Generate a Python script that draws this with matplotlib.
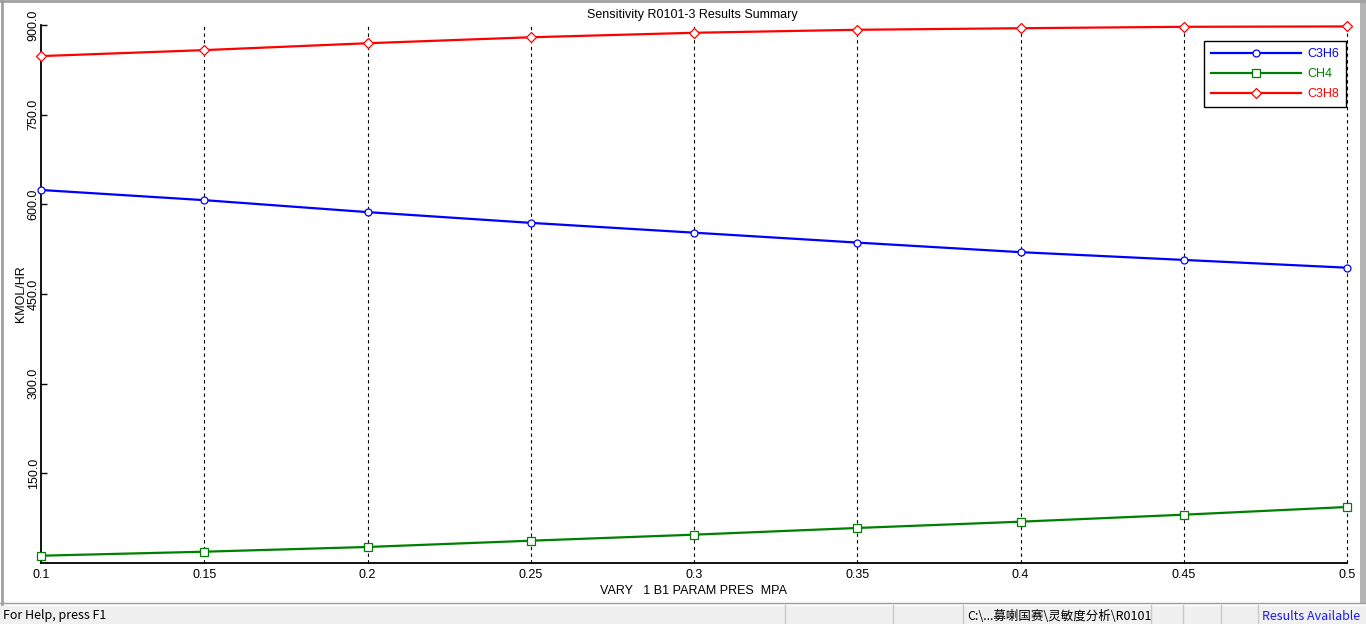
import numpy as np
import matplotlib
matplotlib.use("Agg")
import matplotlib.pyplot as plt
from matplotlib.lines import Line2D
from matplotlib.patches import Rectangle

# data
pres = [0.1, 0.15, 0.2, 0.25, 0.3, 0.35, 0.4, 0.45, 0.5]
c3h6 = [624, 607, 587, 569, 552.6, 536, 520, 507, 494]
ch4 = [12.2, 18.9, 26.8, 37.3, 47.4, 58.6, 69.1, 80.8, 93.7]
c3h8 = [848, 858, 869.5, 879.5, 887, 892, 894.6, 897, 897.6]
x_labels = ['0.1', '0.15', '0.2', '0.25', '0.3', '0.35', '0.4', '0.45', '0.5']
y_ticks = [150, 300, 450, 600, 750, 900]

plt.rcParams['font.family'] = ['Liberation Sans', 'DejaVu Sans']

W, H = 1366, 624
fig = plt.figure(figsize=(W / 100, H / 100), dpi=100)
fig.patch.set_facecolor('white')

# plot area in pixels
left, right, top, bottom = 41, 1347, 25, 563
ax = fig.add_axes([left / W, 1 - bottom / H, (right - left) / W, (bottom - top) / H])
ax.set_facecolor('white')

series = [
    ('C3H6', c3h6, 'blue', 'o', 5),
    ('CH4', ch4, 'green', 's', 5.5),
    ('C3H8', c3h8, 'red', 'D', 4.8),
]
for name, vals, col, mk, ms in series:
    ax.plot(pres, vals, color=col, lw=1.6, marker=mk, ms=ms, mfc='white',
            mec=col, mew=0.9, label=name, clip_on=False, zorder=3)

ax.set_xlim(0.1, 0.5)
ax.set_ylim(0, 900)

ax.set_xticks(pres)
ax.set_xticklabels(x_labels)
ax.set_yticks(y_ticks)
ax.set_yticklabels(['%.1f' % v for v in y_ticks], rotation=90, va='center')
ax.tick_params(axis='x', length=0, pad=4, labelsize=9)
ax.tick_params(axis='y', length=4, width=1, direction='in', pad=1, labelsize=9)

for s in ['top', 'right']:
    ax.spines[s].set_visible(False)
for s in ['left', 'bottom']:
    ax.spines[s].set_linewidth(1.3)
    ax.spines[s].set_color('black')

# vertical dashed grid at each x value
for xv in pres[1:]:
    ax.axvline(xv, color='black', lw=0.8, ls=(0, (3, 3)), zorder=1, clip_on=False)

ax.set_xlabel('VARY   1 B1 PARAM PRES  MPA', fontsize=9, labelpad=3)
ax.set_ylabel('KMOL/HR', fontsize=9, labelpad=2)
ax.yaxis.set_label_coords(-0.0105, 0.5)

fig.text(692 / W, 1 - 15 / H, 'Sensitivity R0101-3 Results Summary',
         ha='center', va='center', fontsize=9)

leg = ax.legend(loc='upper right', bbox_to_anchor=(0.9995, 0.970),
                borderaxespad=0, fontsize=9, handlelength=7.2,
                handletextpad=0.5, labelspacing=0.65, borderpad=0.55,
                fancybox=False, framealpha=1, edgecolor='black')
leg.get_frame().set_linewidth(1.0)
for txt, (_, _, col, _, _) in zip(leg.get_texts(), series):
    txt.set_color(col)

# window frame and status bar
fig.add_artist(Rectangle((0, 0), 1, 20 / H, transform=fig.transFigure,
                         facecolor='#f0f0f0', edgecolor='none'))
fig.add_artist(Line2D([0, 1], [1 - 603 / H] * 2, transform=fig.transFigure,
                      color='#a0a0a0', lw=1))
fig.add_artist(Line2D([0, 1], [1 - 605 / H] * 2, transform=fig.transFigure,
                      color='white', lw=1))
fig.add_artist(Line2D([1.5 / W] * 2, [20 / H, 1], transform=fig.transFigure,
                      color='#a0a0a0', lw=2))
fig.add_artist(Line2D([0, 1], [1 - 1 / H] * 2, transform=fig.transFigure,
                      color='#a0a0a0', lw=2))
fig.add_artist(Rectangle((1360 / W, 20 / H), 6 / W, 1 - 20 / H,
                         transform=fig.transFigure, facecolor='#b4b4b4',
                         edgecolor='none'))
for xs in [785, 893, 963, 1151, 1183, 1221, 1258]:
    fig.add_artist(Line2D([xs / W] * 2, [0, 19 / H], transform=fig.transFigure,
                          color='#c8c8c8', lw=1))

sb_font = ['Noto Sans CJK SC', 'DejaVu Sans']
fig.text(3 / W, 8 / H, 'For Help, press F1', ha='left', va='center',
         fontsize=9, family=sb_font)
fig.text(967 / W, 8 / H, 'C:\\...募喇国赛\\灵敏度分析\\R0101', ha='left',
         va='center', fontsize=9, family=sb_font)
fig.text(1360 / W, 8 / H, 'Results Available', ha='right', va='center',
         fontsize=9, color='#1a1aff', family=sb_font)

fig.savefig('out.png', dpi=100, facecolor=fig.get_facecolor())
